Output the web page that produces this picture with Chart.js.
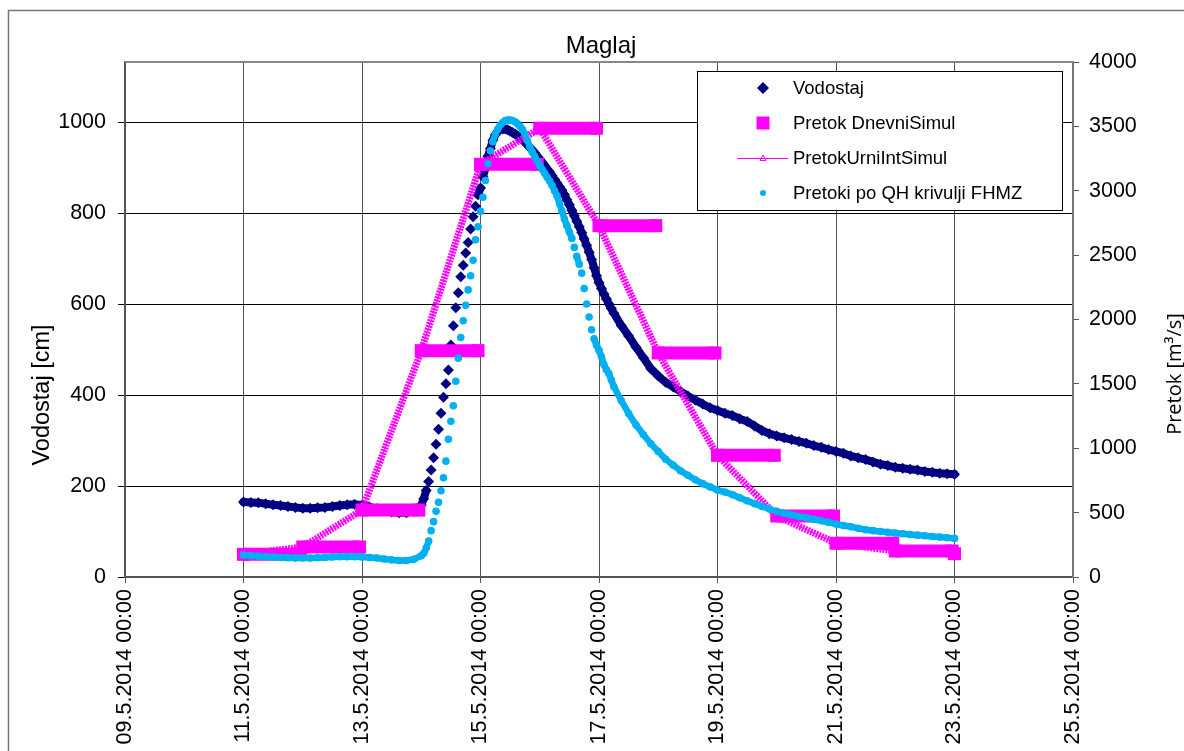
<!DOCTYPE html>
<html>
<head>
<meta charset="utf-8">
<title>Maglaj</title>
<script src="https://cdn.jsdelivr.net/npm/chart.js@4"></script>
<style>
  body { margin: 0; background: #fff; }
  #wrap { width: 1184px; height: 751px; position: relative; }
</style>
</head>
<body>
<div id="wrap"><canvas id="chart"></canvas></div>
<script>
// x values are hours counted from 11.5.2014 00:00
const xTickLabels = ['09.5.2014 00:00', '11.5.2014 00:00', '13.5.2014 00:00', '15.5.2014 00:00',
  '17.5.2014 00:00', '19.5.2014 00:00', '21.5.2014 00:00', '23.5.2014 00:00', '25.5.2014 00:00'];

const hours = [0, 3, 6, 9, 12, 15, 18, 21, 24, 27, 30, 33, 36, 39, 42, 45, 48, 51, 54, 57, 60, 63, 66, 69, 72,
  73, 74, 75, 76, 77, 78, 79, 80, 81, 82, 83, 84, 85, 86, 87, 88, 89, 90, 91, 92, 93, 94, 95, 96,
  97, 98, 99, 100, 101, 102, 103, 104, 105, 106, 107, 108, 109, 110, 111, 112, 113, 114, 115, 116, 117, 118, 119, 120,
  121, 122, 123, 124, 125, 126, 127, 128, 129, 130, 131, 132, 133, 134, 135, 136, 137, 138, 139, 140,
  141, 142, 143, 144, 145, 146, 147, 148, 149, 150,
  153, 156, 159, 162, 165, 168, 171, 174, 177, 180, 183, 186, 189, 192, 195, 198, 201, 204, 207, 210, 213, 216,
  219, 222, 225, 228, 231, 234, 237, 240, 243, 246, 249, 252, 255, 258, 261, 264, 267, 270, 273, 276, 279, 282, 285, 288];

// Vodostaj [cm]
const vodostaj = [165, 164, 163, 161, 159, 157, 155, 153, 151, 151, 152, 153, 155, 157, 159, 160, 158, 154, 150, 146, 143, 141, 141, 146, 158,
  172, 190, 210, 235, 262, 292, 325, 360, 395, 425, 455, 510, 552, 592, 625, 660, 685, 712, 735, 765, 792, 815, 840, 855,
  880, 898, 925, 942, 960, 972, 980, 984, 985, 985, 983, 980, 977, 974, 970, 966, 961, 956, 950, 944, 938, 932, 925, 918,
  911, 904, 897, 890, 882, 874, 866, 858, 850, 840, 829, 818, 806, 794, 782, 770, 757, 743, 729, 714,
  698, 680, 662, 647, 634, 622, 611, 600, 590, 580,
  553, 530, 505, 482, 458, 442, 428, 418, 408, 398, 389, 380, 372, 366, 360, 355, 348, 342, 332, 322, 315, 310,
  306, 302, 298, 294, 289, 285, 280, 276, 272, 266, 262, 258, 253, 248, 245, 241, 239, 237, 235, 232, 230, 228, 227, 226];

// Pretoki po QH krivulji FHMZ [m3/s]
const pretokiQH = [170, 166, 162, 158, 155, 152, 150, 148, 147, 147, 149, 152, 155, 157, 158, 158, 156, 152, 147, 140, 133, 128, 128, 138, 165,
  185, 225, 280, 360, 430, 510, 580, 670, 770, 900, 1070, 1210, 1330, 1520, 1700, 1860, 1990, 2110, 2230, 2340, 2460, 2620, 2720, 2840,
  2950, 3080, 3210, 3310, 3380, 3440, 3480, 3510, 3530, 3545, 3550, 3550, 3545, 3535, 3520, 3500, 3475, 3440, 3390, 3340, 3300, 3265, 3230, 3195,
  3165, 3135, 3105, 3075, 3040, 3000, 2960, 2900, 2840, 2780, 2730, 2680, 2630, 2560, 2490, 2430, 2360, 2240, 2120, 2020,
  1920, 1850, 1800, 1760, 1710, 1650, 1610, 1580, 1530, 1480,
  1370, 1270, 1180, 1105, 1035, 975, 915, 870, 825, 790, 755, 725, 700, 675, 660, 640, 615, 592, 570, 548, 528, 510,
  495, 482, 470, 460, 448, 437, 424, 412, 400, 390, 378, 367, 360, 353, 348, 342, 336, 330, 325, 320, 314, 310, 305, 300];

// Pretok DnevniSimul: one value per day (hour of day start)
const dnevniStart = [0, 24, 48, 72, 96, 120, 144, 168, 192, 216, 240, 264, 288];
const dnevniValues = [176, 233, 520, 1758, 3205, 3485, 2729, 1740, 945, 474, 262, 202, 181];

const NAVY = '#000080', MAGENTA = '#FF00FF', SKY = '#00B0F0';
const FONT = '"Liberation Sans", Arial, sans-serif';

const vodPoints = hours.map((h, i) => ({ x: h, y: vodostaj[i] }));
const qhPoints = hours.map((h, i) => ({ x: h, y: pretokiQH[i] }));
const urniPoints = dnevniStart.map((h, i) => ({ x: h, y: dnevniValues[i] }));
const dnevniPoints = [];
dnevniStart.forEach((h, i) => {
  dnevniPoints.push({ x: h, y: dnevniValues[i] });
  if (i < dnevniStart.length - 1) dnevniPoints.push({ x: h + 23, y: dnevniValues[i] });
  dnevniPoints.push({ x: h + 23.5, y: null });
});

// hourly markers merge into a band where the curve is flat enough (pixels per hour)
const bandColor = (color, rate) => ctx => {
  const dh = Math.max(1, ctx.p1.parsed.x - ctx.p0.parsed.x);
  return Math.abs(ctx.p1.y - ctx.p0.y) / dh > rate ? 'rgba(0,0,0,0)' : color;
};

const decorPlugin = {
  id: 'decor',
  afterDraw(chart) {
    const ctx = chart.ctx, a = chart.chartArea;
    ctx.save();
    // outer frame
    ctx.strokeStyle = '#777';
    ctx.lineWidth = 1.5;
    ctx.strokeRect(8.5, 10.5, 1300, 900);
    // plot top border
    ctx.strokeStyle = '#888';
    ctx.lineWidth = 2;
    ctx.beginPath();
    ctx.moveTo(a.left, a.top);
    ctx.lineTo(a.right, a.top);
    ctx.stroke();

    // title
    ctx.fillStyle = '#000';
    ctx.textAlign = 'center';
    ctx.textBaseline = 'alphabetic';
    ctx.font = '24px ' + FONT;
    ctx.fillText('Maglaj', 601, 53);

    // axis titles
    ctx.save();
    ctx.translate(43, 395);
    ctx.rotate(-Math.PI / 2);
    ctx.textBaseline = 'middle';
    ctx.font = '23.5px ' + FONT;
    ctx.fillText('Vodostaj [cm]', 0, 0);
    ctx.restore();

    ctx.save();
    ctx.translate(1175, 374);
    ctx.rotate(-Math.PI / 2);
    ctx.textBaseline = 'middle';
    ctx.font = '20px "Open Sans", "Noto Sans", sans-serif';
    ctx.fillText('Pretok [m³/s]', 0, 0);
    ctx.restore();

    // legend
    ctx.fillStyle = '#fff';
    ctx.fillRect(697, 71, 365, 140);
    ctx.strokeStyle = '#000';
    ctx.lineWidth = 1;
    ctx.strokeRect(697.5, 71.5, 365, 139);
    const mx = 763;
    const rows = [88, 123, 158, 193];
    ctx.fillStyle = NAVY;
    ctx.beginPath();
    ctx.moveTo(mx, rows[0] - 6); ctx.lineTo(mx + 6, rows[0]);
    ctx.lineTo(mx, rows[0] + 6); ctx.lineTo(mx - 6, rows[0]);
    ctx.closePath(); ctx.fill();
    ctx.fillStyle = MAGENTA;
    ctx.fillRect(mx - 6.5, rows[1] - 6.5, 13, 13);
    ctx.strokeStyle = MAGENTA;
    ctx.lineWidth = 1;
    ctx.beginPath();
    ctx.moveTo(737, rows[2] + 0.5); ctx.lineTo(788, rows[2] + 0.5);
    ctx.stroke();
    ctx.beginPath();
    ctx.moveTo(mx, rows[2] - 3); ctx.lineTo(mx + 3, rows[2] + 2.5); ctx.lineTo(mx - 3, rows[2] + 2.5);
    ctx.closePath(); ctx.stroke();
    ctx.fillStyle = SKY;
    ctx.beginPath();
    ctx.arc(mx, rows[3], 3, 0, Math.PI * 2);
    ctx.fill();

    ctx.fillStyle = '#000';
    ctx.textAlign = 'left';
    ctx.textBaseline = 'middle';
    ctx.font = '18.5px ' + FONT;
    const names = ['Vodostaj', 'Pretok DnevniSimul', 'PretokUrniIntSimul', 'Pretoki po QH krivulji FHMZ'];
    names.forEach((n, i) => ctx.fillText(n, 793, rows[i] + 1));
    ctx.restore();
  }
};

new Chart(document.getElementById('chart'), {
  type: 'line',
  data: {
    datasets: [
      {
        label: 'Vodostaj', data: vodPoints, yAxisID: 'y', order: 4,
        borderColor: NAVY, borderWidth: 8, borderCapStyle: 'round', borderJoinStyle: 'round',
        segment: { borderColor: bandColor(NAVY, 9) },
        pointStyle: 'rectRot', pointRadius: 5.5,
        pointBackgroundColor: NAVY, pointBorderWidth: 0, pointBorderColor: NAVY
      },
      {
        label: 'Pretok DnevniSimul', data: dnevniPoints, yAxisID: 'y1', order: 3,
        borderColor: MAGENTA, borderWidth: 13, borderCapStyle: 'butt', spanGaps: false,
        pointStyle: 'rect', pointRadius: 9.2, pointBackgroundColor: MAGENTA, pointBorderWidth: 0
      },
      {
        label: 'PretokUrniIntSimul', data: urniPoints, yAxisID: 'y1', order: 2,
        borderColor: MAGENTA, borderWidth: 7, borderDash: [2, 1],
        pointRadius: 0
      },
      {
        label: 'PretokUrniIntSimul line', data: urniPoints, yAxisID: 'y1', order: 2,
        borderColor: MAGENTA, borderWidth: 1, pointStyle: 'triangle', pointRadius: 4,
        pointBackgroundColor: 'rgba(255,255,255,0)', pointBorderColor: MAGENTA, pointBorderWidth: 1
      },
      {
        label: 'Pretoki po QH krivulji FHMZ', data: qhPoints, yAxisID: 'y1', order: 1,
        borderColor: SKY, borderWidth: 6.5, borderCapStyle: 'round', borderJoinStyle: 'round',
        segment: { borderColor: bandColor(SKY, 8) },
        pointStyle: 'circle', pointRadius: 3.8,
        pointBackgroundColor: SKY, pointBorderWidth: 0, pointBorderColor: SKY
      }
    ]
  },
  options: {
    responsive: true,
    maintainAspectRatio: false,
    animation: false,
    layout: { padding: { top: 62, left: 0, right: 0, bottom: 0 } },
    plugins: { legend: { display: false }, tooltip: { enabled: false }, title: { display: false } },
    scales: {
      x: {
        type: 'linear', min: -48, max: 336,
        afterFit(s) { s.height = 174; },
        ticks: {
          stepSize: 48, autoSkip: false, minRotation: 90, maxRotation: 90, padding: 6,
          color: '#000', font: { family: FONT, size: 21.5 },
          callback: v => xTickLabels[Math.round((v + 48) / 48)]
        },
        grid: { color: '#555', lineWidth: 1, tickLength: 6 },
        border: { color: '#555', width: 2 }
      },
      y: {
        position: 'left', min: 0, max: 1132,
        afterFit(s) { s.width = 125; },
        ticks: {
          stepSize: 200, includeBounds: false, padding: 12, color: '#000',
          font: { family: FONT, size: 21.5 }, callback: v => String(v)
        },
        grid: { color: '#000', lineWidth: 1, tickLength: 7 },
        border: { color: '#555', width: 2 }
      },
      y1: {
        position: 'right', min: 0, max: 4000,
        afterFit(s) { s.width = 111; },
        ticks: {
          stepSize: 500, padding: 10, color: '#000',
          font: { family: FONT, size: 21.5 }, callback: v => String(v)
        },
        grid: { drawOnChartArea: false, color: '#555', tickLength: 6 },
        border: { color: '#777', width: 2 }
      }
    }
  },
  plugins: [decorPlugin]
});
</script>
</body>
</html>
